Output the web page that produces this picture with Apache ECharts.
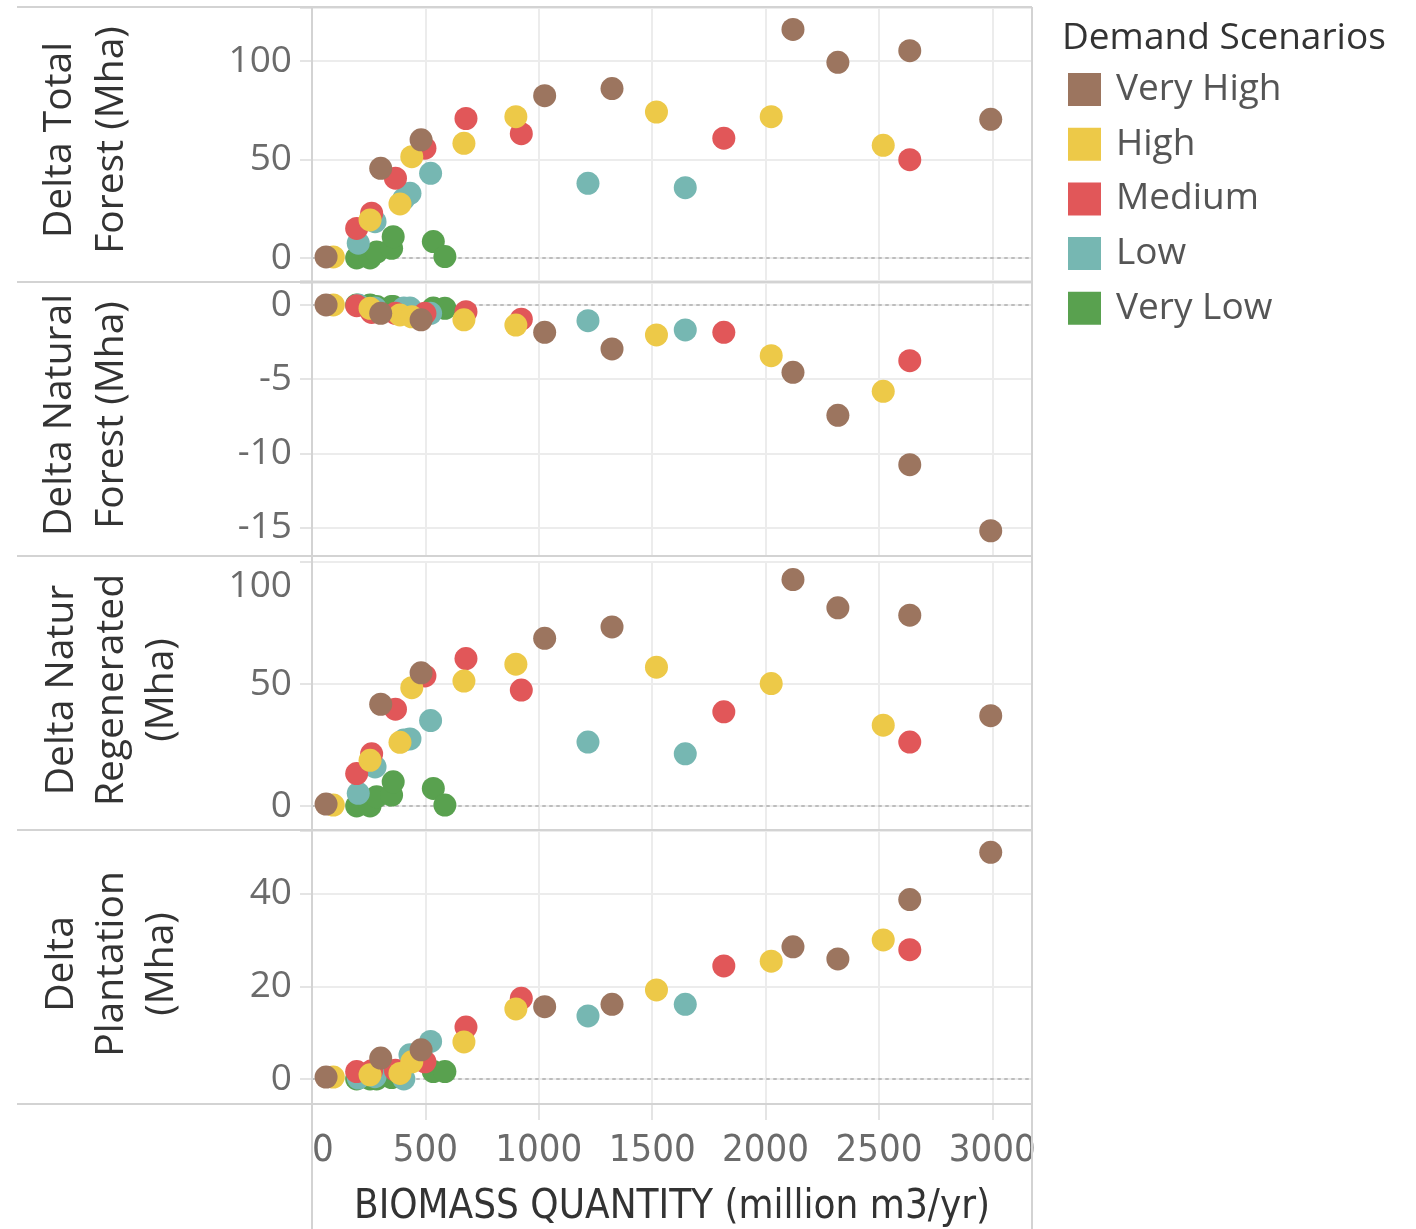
<!DOCTYPE html>
<html><head><meta charset="utf-8">
<script src="https://cdn.jsdelivr.net/npm/echarts@6/dist/echarts.min.js"></script>
<style>html,body{margin:0;padding:0;background:#fff}#c{width:1416px;height:1229px}</style>
</head><body><div id="c"></div>
<script>
// ---------- DATA ----------
const scenarios = ['Very High', 'High', 'Medium', 'Low', 'Very Low'];
const panelTitles = ['Delta Total\nForest (Mha)', 'Delta Natural\nForest (Mha)', 'Delta Natur\nRegenerated\n(Mha)', 'Delta\nPlantation\n(Mha)'];
const xAxisTitle = 'BIOMASS QUANTITY (million m3/yr)';
const legendTitle = 'Demand Scenarios';

// biomass quantity (x) per scenario
const xVeryHigh = [62, 303, 481, 1026, 1323, 2121, 2319, 2636, 2993];
const xHigh     = [94, 256, 388, 440, 670, 899, 1519, 2025, 2519];
const xMedium   = [197, 263, 368, 498, 679, 923, 1816, 2636];
const xLow      = [204, 278, 405, 432, 523, 1217, 1646];
const xVeryLow  = [197, 256, 285, 351, 358, 535, 586];

// Delta Total Forest (Mha)
const totalVeryHigh = [0.5, 45.5, 60, 82.4, 86, 116, 99.3, 105.2, 70.4];
const totalHigh     = [0.5, 19.3, 27.4, 51.4, 58.2, 71.7, 74.1, 71.7, 57.2];
const totalMedium   = [15, 22.7, 40.5, 55.7, 70.8, 63.1, 60.8, 49.9];
const totalLow      = [7.5, 18.4, 30, 32.8, 43, 37.9, 35.7];
const totalVeryLow  = [0, 0, 3, 4.9, 10.8, 8.3, 0.7];

// Delta Natural Forest (Mha)
const naturalVeryHigh = [0, -0.56, -1.0, -1.84, -2.96, -4.53, -7.43, -10.75, -15.2];
const naturalHigh     = [0, -0.22, -0.67, -0.8, -1.0, -1.35, -2.02, -3.41, -5.81];
const naturalMedium   = [-0.05, -0.5, -0.56, -0.56, -0.45, -0.96, -1.84, -3.75];
const naturalLow      = [0, -0.2, -0.2, -0.2, -0.56, -1.06, -1.68];
const naturalVeryLow  = [0, 0, -0.1, -0.1, -0.1, -0.2, -0.22];

// Delta Natural Regenerated (Mha)
const regenVeryHigh = [0.8, 41.7, 54.6, 68.7, 73.4, 92.8, 81.2, 78.2, 37];
const regenHigh     = [0.4, 18.7, 26.1, 48.5, 51.2, 58.1, 56.9, 50.2, 33.1];
const regenMedium   = [13.3, 21.4, 39.7, 53.3, 60.4, 47.5, 38.6, 26.2];
const regenLow      = [5.2, 16, 27, 27.5, 35, 26.2, 21.4];
const regenVeryLow  = [0, 0, 3.8, 4.5, 9.9, 7.2, 0.4];

// Delta Plantation (Mha)
const plantVeryHigh = [0.4, 4.5, 6.3, 15.6, 16.1, 28.5, 25.9, 38.7, 48.9];
const plantHigh     = [0.4, 0.9, 1.2, 3.7, 8, 15.1, 19.2, 25.4, 30];
const plantMedium   = [1.6, 1.8, 1.9, 3.7, 11.2, 17.4, 24.4, 27.9];
const plantLow      = [0.2, 0.5, 0, 5.2, 8.1, 13.6, 16.1];
const plantVeryLow  = [0, 0, 0, 0.3, 0.5, 1.6, 1.6];

// ---------- BUILD ----------
const colors = ['#9c755f', '#edc948', '#e15759', '#76b7b2', '#59a14f'];
const xs = [xVeryHigh, xHigh, xMedium, xLow, xVeryLow];
const panels = [
  [totalVeryHigh, totalHigh, totalMedium, totalLow, totalVeryLow],
  [naturalVeryHigh, naturalHigh, naturalMedium, naturalLow, naturalVeryLow],
  [regenVeryHigh, regenHigh, regenMedium, regenLow, regenVeryLow],
  [plantVeryHigh, plantHigh, plantMedium, plantLow, plantVeryLow]
];
const yRanges = [
  {min: -11.7, max: 126.9, iv: 50},
  {min: -16.9, max: 1.48, iv: 5},
  {min: -9.84, max: 100, iv: 50},
  {min: -5.4, max: 53.5, iv: 20}
];
const X_MAX = 3175;
const L = 312, R = 1416 - 1032;
const grids = [
  {left: L, right: R, top: 8, height: 273},
  {left: L, right: R, top: 283, height: 273},
  {left: L, right: R, top: 562, height: 268},
  {left: L, right: R, top: 831, height: 273}
];
const fmt = iv => v => (Math.abs(v / iv - Math.round(v / iv)) < 1e-6 ? String(Math.round(v)) : '');
const gridColor = '#ececec';
const tickFont = 'Open Sans';
const narrowFont = 'DejaVu Sans Condensed, Liberation Sans Narrow, sans-serif';

const xAxes = grids.map((g, i) => ({
  type: 'value', gridIndex: i, min: 0, max: X_MAX, minInterval: 500, maxInterval: 500,
  axisLine: {show: true, onZero: true, lineStyle: {type: [2, 5], color: '#bdbdbd', width: 2}},
  axisTick: {show: false}, axisLabel: {show: false},
  splitLine: {show: true, lineStyle: {color: gridColor, width: 2}}
}));
xAxes.push({
  type: 'value', gridIndex: 3, position: 'bottom', min: 0, max: X_MAX, minInterval: 500, maxInterval: 500,
  axisLine: {show: false, onZero: false},
  axisTick: {show: true, length: 16, lineStyle: {color: '#e4e4e4', width: 2}},
  splitLine: {show: false},
  axisLabel: {show: true, margin: 28, fontSize: 38, fontFamily: narrowFont, color: '#6b6b6b',
    alignMinLabel: 'left', formatter: fmt(500)},
  name: xAxisTitle, nameLocation: 'middle', nameGap: 84,
  nameTextStyle: {fontSize: 40, fontFamily: narrowFont, color: '#333'}
});

const yAxes = yRanges.map((r, i) => ({
  type: 'value', gridIndex: i, min: r.min, max: r.max, minInterval: r.iv, maxInterval: r.iv,
  axisLine: {show: false},
  axisTick: {show: true, length: 12, lineStyle: {color: '#e4e4e4', width: 2}},
  axisLabel: {show: true, margin: 20, fontSize: 37, fontFamily: tickFont, color: '#6b6b6b',
    formatter: fmt(r.iv), verticalAlignMaxLabel: i === 2 ? 'top' : null,
    padding: i === 2 ? [6, 0, 0, 0] : 0},
  splitLine: {show: true, lineStyle: {color: gridColor, width: 2}}
}));

const series = [];
panels.forEach((panel, p) => {
  for (let s = scenarios.length - 1; s >= 0; s--) {
    series.push({
      type: 'scatter', name: scenarios[s], xAxisIndex: p, yAxisIndex: p,
      data: xs[s].map((x, k) => [x, panel[s][k]]),
      symbolSize: 23, z: 10 - s,
      itemStyle: {color: colors[s], opacity: 1},
      emphasis: {disabled: true}
    });
  }
});

const lineStyle = {stroke: '#d3d3d3', lineWidth: 2};
const graphic = [];
[7, 282, 556, 830, 1104].forEach(y => graphic.push({type: 'line', z: 100, shape: {x1: 17, y1: y, x2: 1032, y2: y}, style: lineStyle}));
[312, 1032].forEach(x => graphic.push({type: 'line', z: 100, shape: {x1: x, y1: 7, x2: x, y2: 1229}, style: lineStyle}));
const titlePos = [[86, 140, 52], [86, 415, 52], [112, 690, 50], [112, 964, 50]];
panelTitles.forEach((t, i) => graphic.push({
  type: 'text', z: 100, x: titlePos[i][0], y: titlePos[i][1], rotation: Math.PI / 2,
  style: {text: t, x: 0, y: 0, fill: '#333', font: '39px "Open Sans"', lineHeight: titlePos[i][2],
    align: 'center', verticalAlign: 'middle', textAlign: 'center', textVerticalAlign: 'middle'}
}));
graphic.push({
  type: 'text', z: 100, x: 1062, y: 38,
  style: {text: legendTitle, x: 0, y: 0, fill: '#333', font: '37px "Open Sans"',
    align: 'left', verticalAlign: 'middle', textAlign: 'left', textVerticalAlign: 'middle'}
});

const chart = echarts.init(document.getElementById('c'));
chart.setOption({
  animation: false,
  backgroundColor: '#fff',
  grid: grids,
  xAxis: xAxes,
  yAxis: yAxes,
  legend: {
    data: scenarios, orient: 'vertical', left: 1068, top: 71, padding: 0,
    itemWidth: 33, itemHeight: 33, itemGap: 17.7, icon: 'rect',
    textStyle: {fontFamily: 'Open Sans', fontSize: 37, color: '#555', lineHeight: 34, padding: [0, 0, 0, 10]}
  },
  graphic: graphic,
  series: series
});
</script>
</body></html>
